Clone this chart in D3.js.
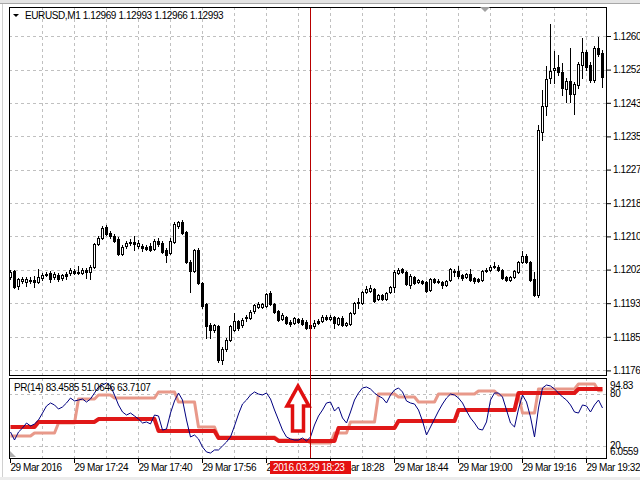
<!DOCTYPE html>
<html><head><meta charset="utf-8">
<script src="https://cdn.jsdelivr.net/npm/d3@7"></script>
<style>html,body{margin:0;padding:0;background:#fff;overflow:hidden}svg{display:block;font-family:"Liberation Sans",Arial,sans-serif}</style>
</head><body><svg id="c" width="640" height="480"></svg>
<script>
const symbolTitle = "EURUSD,M1  1.12969 1.12993 1.12966 1.12993";
const indicatorTitle = "PR(14) 83.4585 51.0646 63.7107";

const openP = [1.11998,1.12013,1.11975,1.11988,1.11985,1.11990,1.11990,1.11985,1.11995,1.12005,
1.12008,1.11998,1.12003,1.11995,1.12005,1.12008,1.12013,1.12010,1.12008,1.12015,
1.12010,1.12023,1.12080,1.12095,1.12123,1.12108,1.12100,1.12093,1.12055,1.12075,
1.12083,1.12085,1.12075,1.12075,1.12073,1.12075,1.12068,1.12088,1.12083,1.12065,
1.12058,1.12085,1.12125,1.12135,1.12110,1.12035,1.12013,1.12065,1.11983,1.11930,
1.11878,1.11865,1.11875,1.11790,1.11818,1.11840,1.11865,1.11888,1.11878,1.11895,
1.11895,1.11913,1.11923,1.11923,1.11925,1.11958,1.11930,1.11913,1.11893,1.11898,
1.11885,1.11883,1.11893,1.11890,1.11885,1.11870,1.11875,1.11888,1.11888,1.11898,
1.11893,1.11898,1.11880,1.11895,1.11878,1.11880,1.11908,1.11935,1.11933,1.11960,
1.11963,1.11968,1.11943,1.11953,1.11943,1.11960,1.11973,1.12008,1.12018,1.12010,
1.11978,1.11998,1.11985,1.11988,1.11985,1.11965,1.11993,1.11987,1.11985,1.11978,
1.11990,1.12013,1.12013,1.12003,1.11998,1.12005,1.11995,1.11993,1.11990,1.12015,
1.12015,1.12025,1.12023,1.12015,1.11998,1.11990,1.11998,1.12010,1.12035,1.12050,
1.12035,1.11993,1.11953,1.12360,1.12425,1.12495,1.12515,1.12523,1.12510,1.12468,
1.12488,1.12455,1.12478,1.12528,1.12560,1.12528,1.12490,1.12570,1.12558];
const highP = [1.12015,1.12015,1.11995,1.11998,1.11998,1.11998,1.12000,1.12018,1.12008,1.12010,
1.12013,1.12010,1.12008,1.12005,1.12010,1.12020,1.12018,1.12025,1.12020,1.12020,
1.12028,1.12083,1.12100,1.12125,1.12128,1.12113,1.12105,1.12098,1.12078,1.12088,
1.12093,1.12100,1.12090,1.12080,1.12078,1.12083,1.12093,1.12095,1.12088,1.12070,
1.12095,1.12135,1.12138,1.12140,1.12113,1.12040,1.12068,1.12070,1.11985,1.11933,
1.11883,1.11880,1.11878,1.11823,1.11845,1.11878,1.11908,1.11890,1.11895,1.11903,
1.11915,1.11930,1.11935,1.11933,1.11958,1.11963,1.11933,1.11915,1.11908,1.11900,
1.11890,1.11898,1.11895,1.11895,1.11890,1.11883,1.11890,1.11893,1.11903,1.11903,
1.11903,1.11900,1.11898,1.11900,1.11885,1.11910,1.11935,1.11945,1.11963,1.11975,
1.11978,1.11970,1.11955,1.11955,1.11960,1.11975,1.12015,1.12020,1.12020,1.12013,
1.12005,1.12000,1.11993,1.11990,1.11988,1.11995,1.11995,1.11993,1.11988,1.11990,
1.12020,1.12018,1.12025,1.12005,1.12008,1.12018,1.11998,1.11995,1.12015,1.12020,
1.12028,1.12035,1.12028,1.12018,1.12000,1.12000,1.12015,1.12038,1.12063,1.12055,
1.12038,1.12010,1.12378,1.12465,1.12525,1.12630,1.12563,1.12553,1.12533,1.12495,
1.12570,1.12485,1.12535,1.12595,1.12565,1.12535,1.12575,1.12598,1.12565];
const lowP = [1.11993,1.11970,1.11968,1.11983,1.11975,1.11983,1.11973,1.11983,1.11990,1.12000,
1.11985,1.11993,1.11988,1.11990,1.11993,1.12003,1.12005,1.12005,1.12005,1.11995,
1.11993,1.12020,1.12078,1.12093,1.12103,1.12095,1.12085,1.12053,1.12053,1.12070,
1.12078,1.12065,1.12070,1.12063,1.12065,1.12063,1.12065,1.12075,1.12058,1.12035,
1.12055,1.12083,1.12120,1.12105,1.12033,1.11960,1.12010,1.11980,1.11920,1.11845,
1.11845,1.11860,1.11785,1.11780,1.11813,1.11838,1.11863,1.11865,1.11873,1.11888,
1.11893,1.11908,1.11920,1.11920,1.11923,1.11928,1.11908,1.11888,1.11890,1.11880,
1.11875,1.11880,1.11883,1.11878,1.11868,1.11865,1.11870,1.11880,1.11885,1.11890,
1.11890,1.11870,1.11878,1.11875,1.11875,1.11878,1.11905,1.11920,1.11930,1.11958,
1.11960,1.11935,1.11940,1.11940,1.11940,1.11958,1.11960,1.12005,1.12008,1.11978,
1.11970,1.11980,1.11983,1.11980,1.11960,1.11963,1.11983,1.11983,1.11970,1.11975,
1.11988,1.12000,1.11995,1.11990,1.11995,1.11988,1.11983,1.11985,1.11988,1.12010,
1.12013,1.12020,1.12013,1.11993,1.11988,1.11988,1.11995,1.12008,1.12033,1.12033,
1.11988,1.11950,1.11948,1.12340,1.12403,1.12483,1.12483,1.12503,1.12453,1.12435,
1.12435,1.12405,1.12470,1.12495,1.12515,1.12485,1.12485,1.12550,1.12473];
const closeP = [1.12010,1.11973,1.11993,1.11993,1.11993,1.11988,1.11985,1.11998,1.12003,1.12003,
1.11993,1.12005,1.11993,1.12003,1.12000,1.12015,1.12008,1.12008,1.12015,1.12010,
1.12023,1.12080,1.12095,1.12120,1.12105,1.12100,1.12088,1.12055,1.12073,1.12083,
1.12085,1.12080,1.12083,1.12070,1.12068,1.12065,1.12088,1.12080,1.12060,1.12053,
1.12088,1.12130,1.12135,1.12108,1.12035,1.12013,1.12065,1.11983,1.11925,1.11875,
1.11865,1.11878,1.11790,1.11818,1.11840,1.11875,1.11888,1.11870,1.11890,1.11898,
1.11910,1.11928,1.11930,1.11930,1.11955,1.11930,1.11910,1.11890,1.11903,1.11883,
1.11880,1.11895,1.11885,1.11880,1.11870,1.11878,1.11883,1.11883,1.11898,1.11893,
1.11898,1.11883,1.11895,1.11878,1.11883,1.11908,1.11933,1.11933,1.11960,1.11968,
1.11970,1.11938,1.11953,1.11943,1.11958,1.11973,1.12010,1.12015,1.12010,1.11980,
1.12000,1.11983,1.11990,1.11983,1.11963,1.11993,1.11985,1.11988,1.11978,1.11988,
1.12018,1.12010,1.12000,1.11995,1.12005,1.11990,1.11988,1.11988,1.12013,1.12013,
1.12023,1.12023,1.12015,1.11995,1.11990,1.11998,1.12013,1.12035,1.12050,1.12035,
1.11990,1.11953,1.12365,1.12425,1.12493,1.12513,1.12520,1.12510,1.12470,1.12488,
1.12455,1.12480,1.12530,1.12560,1.12523,1.12490,1.12570,1.12555,1.12498];

const prFast = [36.0,26.8,36.0,40.6,46.4,43.0,45.3,49.9,57.9,66.0,
69.5,67.2,62.5,64.9,69.5,75.2,71.8,72.9,74.1,70.6,
74.1,81.0,87.9,90.2,92.5,89.1,78.7,67.2,59.1,55.6,
57.9,54.5,51.0,46.4,47.6,45.3,55.6,54.5,38.3,39.5,
57.9,71.8,81.0,72.9,49.9,30.3,32.6,28.0,18.7,13.0,
11.8,15.3,15.3,19.9,24.5,30.3,43.0,56.8,68.3,72.9,
78.7,82.2,79.8,78.7,81.0,74.1,61.4,49.9,38.3,30.3,
28.0,26.8,26.8,29.1,25.7,30.3,44.1,54.5,61.4,69.5,
70.6,60.2,64.9,52.2,46.4,59.1,72.9,81.0,86.8,87.9,
85.6,81.0,77.5,75.2,69.5,78.7,84.5,86.8,82.2,71.8,
69.5,68.3,61.4,48.7,32.6,41.8,51.0,60.2,68.3,75.2,
79.8,78.7,75.2,69.5,60.2,52.2,46.4,39.5,38.3,47.6,
72.9,81.0,81.0,76.4,61.4,46.4,41.8,62.5,78.7,70.6,
53.3,30.3,63.7,86.8,90.2,89.1,85.6,81.0,76.4,72.9,
67.2,59.1,57.9,67.2,66.0,59.1,67.2,72.9,63.71];
const prSignal = [31.4,31.4,31.4,31.4,31.4,31.4,34.9,34.9,34.9,34.9,
34.9,34.9,46.4,46.4,46.4,46.4,46.4,74.1,74.1,74.1,
74.1,74.1,78.7,78.7,78.7,78.7,75.2,75.2,75.2,75.2,
75.2,75.2,75.2,75.2,75.2,75.2,75.2,82.2,82.2,82.2,
82.2,82.2,70.6,70.6,70.6,70.6,70.6,41.8,41.8,41.8,
41.8,41.8,30.3,30.3,30.3,30.3,30.3,30.3,30.3,30.3,
30.3,30.3,30.3,30.3,30.3,30.3,30.3,26.8,26.8,26.8,
26.8,26.8,26.8,26.8,26.8,23.4,23.4,23.4,23.4,23.4,
23.4,34.9,34.9,34.9,34.9,47.6,47.6,47.6,47.6,47.6,
47.6,47.6,79.8,79.8,79.8,79.8,79.8,76.4,76.4,76.4,
76.4,76.4,70.6,70.6,70.6,70.6,70.6,79.8,79.8,79.8,
79.8,79.8,79.8,79.8,79.8,79.8,79.8,83.3,83.3,83.3,
83.3,83.3,78.7,78.7,78.7,78.7,78.7,78.7,57.9,57.9,
57.9,57.9,85.6,85.6,85.6,85.6,85.6,85.6,85.6,85.6,
85.6,85.6,91.4,91.4,91.4,91.4,91.4,83.46,83.46];
const prSlow = [41.8,41.8,41.8,41.8,41.8,41.8,41.8,47.6,47.6,47.6,
47.6,47.6,47.6,47.6,47.6,47.6,47.6,47.6,47.6,47.6,
47.6,47.6,51.0,51.0,51.0,51.0,51.0,51.0,51.0,51.0,
51.0,51.0,51.0,51.0,51.0,51.0,51.0,37.2,37.2,37.2,
37.2,37.2,37.2,37.2,37.2,37.2,37.2,37.2,37.2,37.2,
37.2,37.2,29.1,29.1,29.1,29.1,29.1,29.1,29.1,29.1,
29.1,29.1,29.1,29.1,29.1,29.1,29.1,25.7,25.7,25.7,
25.7,25.7,25.7,25.7,25.7,25.7,25.7,25.7,25.7,25.7,
25.7,25.7,40.6,40.6,40.6,40.6,40.6,40.6,40.6,40.6,
40.6,40.6,40.6,40.6,40.6,40.6,40.6,48.7,48.7,48.7,
48.7,48.7,48.7,48.7,48.7,48.7,48.7,48.7,48.7,48.7,
48.7,48.7,61.4,61.4,61.4,61.4,61.4,61.4,61.4,61.4,
61.4,61.4,61.4,61.4,61.4,61.4,61.4,81.0,81.0,81.0,
81.0,81.0,81.0,81.0,81.0,81.0,81.0,81.0,81.0,81.0,
81.0,81.0,85.6,85.6,85.6,85.6,85.6,85.6,85.6];

const priceTicks = [1.12600,1.12516,1.12433,1.12349,1.12266,1.12182,1.12099,1.12016,1.11932,1.11848,1.11764];
const indTicks = [94.83, 80, 20, 6.0559];
const indTickLabels = ["94.83","80","20","6.0559"];
const indLevels = [80, 20];
const timeBars = [0,16,32,48,64,80,96,112,128,144];
const timeLabels = ["29 Mar 2016","29 Mar 17:24","29 Mar 17:40","29 Mar 17:56","29 Mar 18:12","29 Mar 18:28","29 Mar 18:44","29 Mar 19:00","29 Mar 19:16","29 Mar 19:32"];
const gridEvery = 8;
const cursorBar = 75;
const cursorLabel = "2016.03.29 18:23";
const arrowBar = 72, arrowValue = 89;

const svg = d3.select('#c');
const L = 9, R = 607, mainT = 7, mainB = 376, indT = 378, indB = 458;
const n = closeP.length;
const x = d3.scaleLinear().domain([0, n - 1]).range([10, 602]);
const y = d3.scaleLinear().domain([1.1176, 1.1260]).range([372, 36]);
const yi = d3.scaleLinear().domain([6.0559, 94.83]).range([458, 381]);
const FS = 10, LS = "-0.4px";

// window chrome
svg.append('rect').attr('x',0).attr('y',0).attr('width',640).attr('height',3).attr('fill','#e4e4e4');
svg.append('line').attr('x1',0).attr('x2',640).attr('y1',3.5).attr('y2',3.5).attr('stroke','#a8a8a8');
svg.append('rect').attr('x',0).attr('y',477).attr('width',640).attr('height',3).attr('fill','#ececec');
svg.append('line').attr('x1',2.5).attr('x2',2.5).attr('y1',4).attr('y2',477).attr('stroke','#d0d0d0');

const defs = svg.append('defs');
defs.append('clipPath').attr('id','cm').append('rect').attr('x',L).attr('y',mainT).attr('width',R-L).attr('height',mainB-mainT);
defs.append('clipPath').attr('id','ci').append('rect').attr('x',L).attr('y',indT).attr('width',R-L).attr('height',indB-indT);

// grids
const gridBars = d3.range(gridEvery, n, gridEvery);
const gg = svg.append('g').attr('stroke','#c0c0c0').attr('stroke-dasharray','3,3').attr('shape-rendering','crispEdges');
gridBars.forEach(b => {
  const gx = Math.round(x(b)) + 0.5;
  gg.append('line').attr('x1',gx).attr('x2',gx).attr('y1',mainT).attr('y2',mainB);
  gg.append('line').attr('x1',gx).attr('x2',gx).attr('y1',indT).attr('y2',indB);
});
priceTicks.forEach(t => {
  const gy = Math.round(y(t)) + 0.5;
  if (gy > mainT && gy < mainB) gg.append('line').attr('x1',L).attr('x2',R).attr('y1',gy).attr('y2',gy);
});
indLevels.forEach(v => {
  const gy = Math.round(yi(v)) + 0.5;
  gg.append('line').attr('x1',L).attr('x2',R).attr('y1',gy).attr('y2',gy);
});

// candles
const cg = svg.append('g').attr('clip-path','url(#cm)').attr('shape-rendering','crispEdges');
for (let i = 0; i < n; i++) {
  const cx = Math.round(x(i));
  const o = openP[i], c = closeP[i];
  const top = Math.round(y(Math.max(o, c))), bot = Math.round(y(Math.min(o, c)));
  cg.append('line').attr('x1',cx+0.5).attr('x2',cx+0.5)
    .attr('y1',Math.round(y(highP[i]))).attr('y2',Math.round(y(lowP[i]))+1).attr('stroke','#000');
  if (c > o) {
    cg.append('rect').attr('x',cx-0.5).attr('y',top+0.5).attr('width',2).attr('height',Math.max(bot-top,1))
      .attr('fill','#fff').attr('stroke','#000');
  } else {
    cg.append('rect').attr('x',cx-1).attr('y',top).attr('width',3).attr('height',Math.max(bot-top,1)+1).attr('fill','#000');
  }
}

// indicator lines
const ig = svg.append('g').attr('clip-path','url(#ci)').attr('fill','none').attr('stroke-linejoin','round');
const line = d3.line().x((d,i) => x(i) + 0.5).y(d => yi(d));
ig.append('path').datum(prSignal).attr('d',line).attr('stroke','#e8998a').attr('stroke-width',3);
ig.append('path').datum(prSlow).attr('d',line).attr('stroke','#e01818').attr('stroke-width',4);
ig.append('path').datum(prFast).attr('d',line).attr('stroke','#000080').attr('stroke-width',1);

// arrow object
const ax0 = x(arrowBar), ay0 = yi(arrowValue);
const arrowShape = [[0,0],[11,20],[5.5,20],[5.5,45],[-5.5,45],[-5.5,20],[-11,20]];
svg.append('path').attr('d', 'M' + arrowShape.map(p => [ax0 + p[0], ay0 + p[1]].join(',')).join('L') + 'Z')
  .attr('fill','#fff').attr('stroke','#e01010').attr('stroke-width',3.5).attr('stroke-linejoin','miter');

// frames
const fg = svg.append('g').attr('fill','none').attr('stroke','#000').attr('shape-rendering','crispEdges');
fg.append('rect').attr('x',L+0.5).attr('y',mainT+0.5).attr('width',R-L-1).attr('height',mainB-mainT-1);
fg.append('rect').attr('x',L+0.5).attr('y',indT+0.5).attr('width',R-L-1).attr('height',indB-indT);

// small markers
svg.append('path').attr('d','M480,7L490,7L485,12Z').attr('fill','#a0a0a0');
svg.append('path').attr('d','M10,451L10,457L16,457Z').attr('fill','#b0b0b0');
svg.append('path').attr('d','M13,14L19,14L16,17Z').attr('fill','#000');

// crosshair
const curX = Math.round(x(cursorBar)) + 0.5;
svg.append('line').attr('x1',curX).attr('x2',curX).attr('y1',mainT+1).attr('y2',indB).attr('stroke','#b80000').attr('stroke-width',1);

// price axis
const pAxis = d3.axisRight(y).tickValues(priceTicks).tickFormat(d => d.toFixed(4)).tickSize(4).tickPadding(2);
const pg = svg.append('g').attr('transform',`translate(${R},0)`).call(pAxis);
pg.select('.domain').remove();
pg.selectAll('text').attr('font-size',FS).attr('font-family','"Liberation Sans",Arial,sans-serif').attr('letter-spacing',LS).attr('fill','#000');

// indicator labels
svg.append('g').selectAll('text').data(indTicks).join('text')
  .attr('x',R+3).attr('y',d => Math.min(Math.max(yi(d), 385.5), 451.5)).attr('dy','0.32em')
  .attr('font-size',FS).attr('letter-spacing',LS).text((d,i) => indTickLabels[i]);

// time axis
const tg = svg.append('g');
timeBars.forEach((b,i) => {
  const tx = Math.round(x(b)) + 0.5;
  tg.append('line').attr('x1',tx).attr('x2',tx).attr('y1',indB).attr('y2',indB+5).attr('stroke','#000');
  tg.append('text').attr('x',tx).attr('y',471).attr('font-size',FS).attr('letter-spacing','-0.45px').text(timeLabels[i]);
});
// cursor time label
svg.append('rect').attr('x',curX-40.5).attr('y',461).attr('width',81).attr('height',13).attr('fill','#e41010');
svg.append('text').attr('x',curX-37.5).attr('y',471).attr('font-size',FS).attr('letter-spacing',LS).attr('fill','#fff').text(cursorLabel);

// titles
svg.append('text').attr('x',25).attr('y',19).attr('font-size',FS).attr('letter-spacing',LS).text(symbolTitle);
svg.append('text').attr('x',14).attr('y',391).attr('font-size',FS).attr('letter-spacing',LS).text(indicatorTitle);
</script></body></html>
